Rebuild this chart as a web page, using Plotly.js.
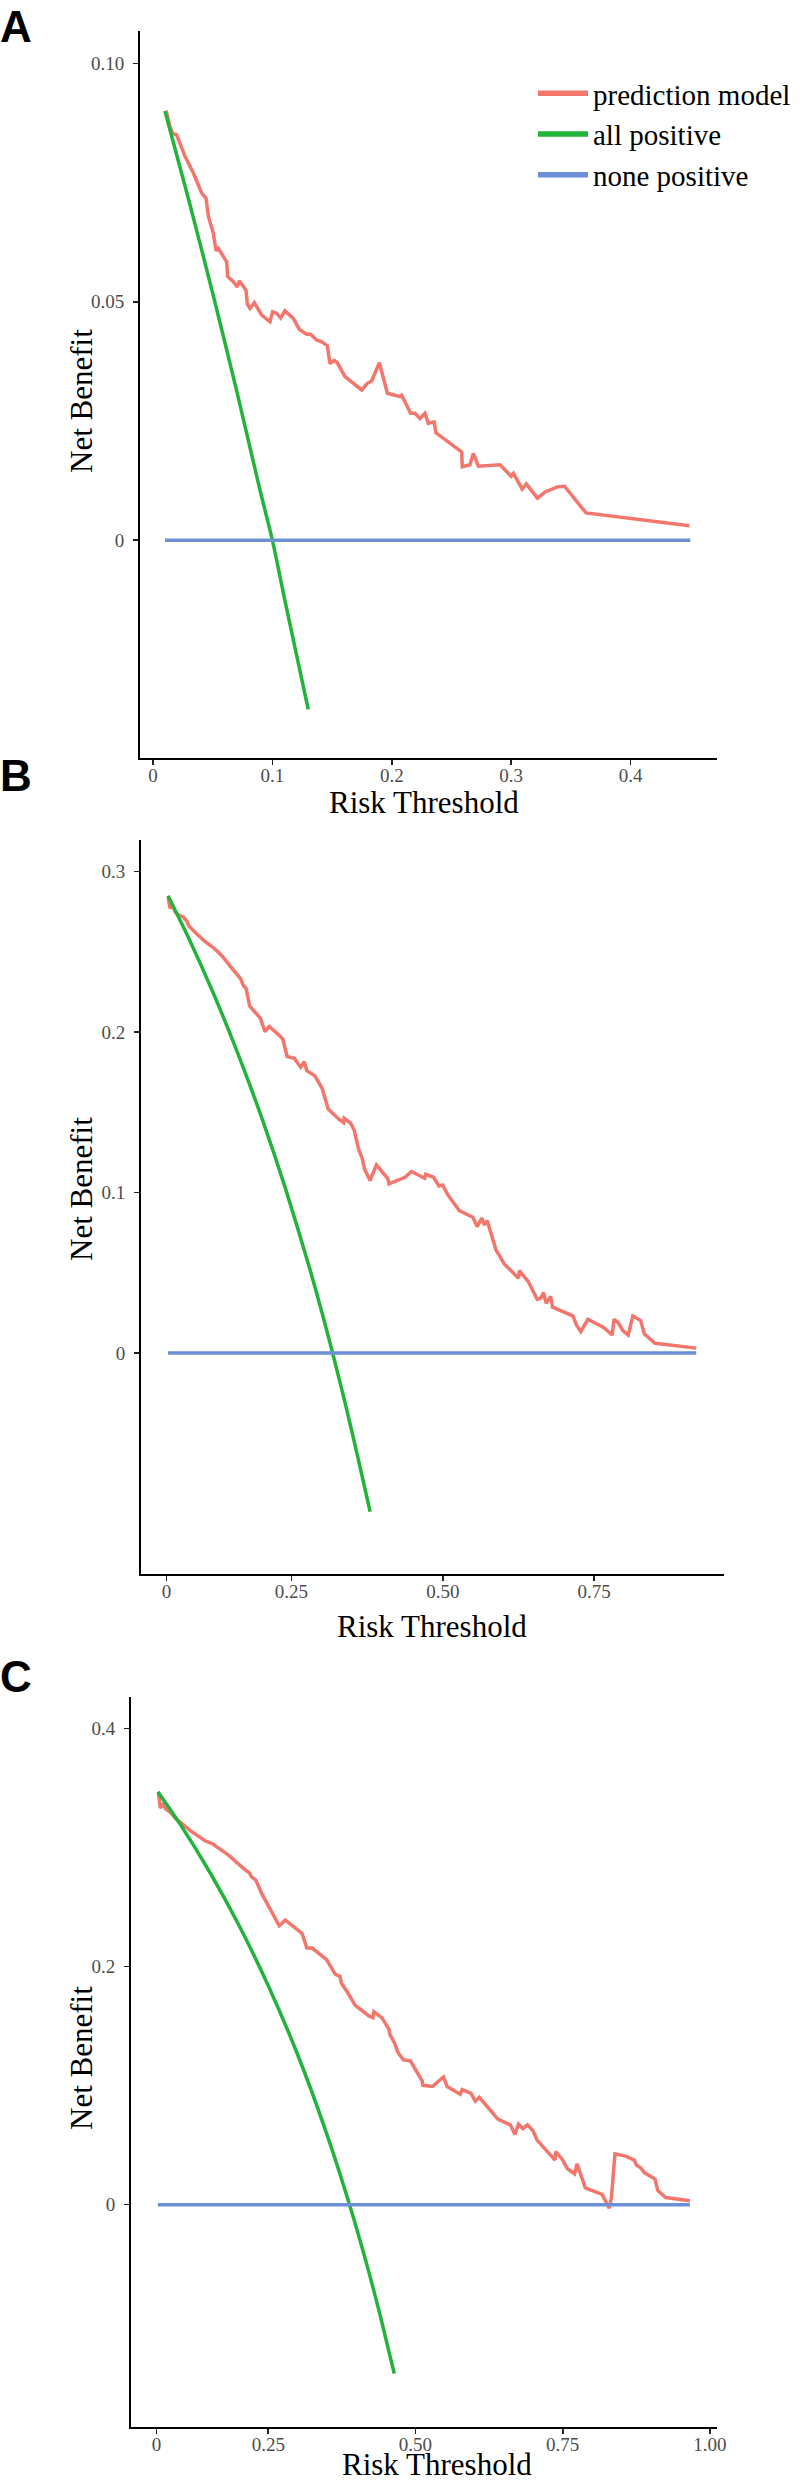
<!DOCTYPE html>
<html>
<head>
<meta charset="utf-8">
<script src="https://cdn.plot.ly/plotly-3.0.1.min.js"></script>
<style>html,body{margin:0;padding:0;background:#fff;}#chart{width:800px;height:2483px;}</style>
</head>
<body>
<div id="chart"></div>
<script>
// ---------- Panel A ----------
const A_model_x = [0.011,0.0142,0.0165,0.0198,0.0268,0.0338,0.0408,0.0444,0.0464,0.0505,0.0528,0.0547,0.0617,0.0625,0.0673,0.0706,0.0723,0.0779,0.079,0.0812,0.0849,0.091,0.098,0.1002,0.1036,0.1069,0.1105,0.1175,0.1226,0.1287,0.132,0.137,0.1413,0.146,0.1482,0.1516,0.1544,0.1608,0.1748,0.1795,0.1831,0.1896,0.1963,0.2069,0.2083,0.2158,0.2194,0.2236,0.2278,0.2306,0.2354,0.2370,0.2585,0.2591,0.2655,0.2683,0.2725,0.2906,0.3000,0.3019,0.3092,0.3126,0.322,0.3285,0.3392,0.3447,0.3627,0.4493];
const A_model_y = [0.0901,0.0867,0.0853,0.0850,0.0805,0.0770,0.0728,0.0717,0.0679,0.0644,0.0607,0.0612,0.0584,0.0553,0.0542,0.0531,0.0544,0.0524,0.0495,0.0486,0.0498,0.0472,0.0458,0.0479,0.0476,0.0466,0.0481,0.0465,0.0442,0.0432,0.0432,0.0420,0.0416,0.0408,0.0370,0.0377,0.0372,0.0343,0.0315,0.0329,0.0334,0.0372,0.0308,0.0301,0.0304,0.0266,0.0266,0.0255,0.0266,0.0245,0.0248,0.0225,0.0185,0.0154,0.0158,0.0182,0.0155,0.0158,0.0134,0.0140,0.0107,0.0118,0.0088,0.0101,0.0112,0.0113,0.0057,0.0030];
const A_all_x = [0.01,0.03,0.05,0.07,0.09,0.10,0.11,0.13];
const A_all_y = [0.090,0.0713,0.0518,0.0314,0.0101,0.000,-0.0121,-0.0355];
const A_none_x = [0.01,0.45];
const A_none_y = [0,0];
const A_xtick_vals = [0,0.1,0.2,0.3,0.4];
const A_xtick_text = ["0","0.1","0.2","0.3","0.4"];
const A_ytick_vals = [0,0.05,0.10];
const A_ytick_text = ["0","0.05","0.10"];

// ---------- Panel B ----------
const B_model_x = [0.0462,0.0492,0.0539,0.058,0.0628,0.0716,0.0775,0.0805,0.0923,0.107,0.1218,0.1354,0.1483,0.1602,0.1661,0.1708,0.1749,0.1808,0.1926,0.1985,0.2062,0.2133,0.231,0.2357,0.2428,0.2546,0.2652,0.2711,0.2753,0.2888,0.3006,0.3107,0.3284,0.3361,0.3372,0.3479,0.3538,0.3609,0.3668,0.3709,0.3798,0.3904,0.4093,0.4111,0.4376,0.4482,0.4701,0.4718,0.4848,0.4937,0.4996,0.5085,0.5273,0.5498,0.5568,0.5645,0.5687,0.5734,0.5881,0.6017,0.6253,0.6265,0.6413,0.656,0.662,0.6666,0.6708,0.6785,0.6814,0.7151,0.721,0.7281,0.7399,0.7653,0.78,0.783,0.7906,0.7977,0.8066,0.8142,0.8272,0.8331,0.8509,0.919];
const B_model_y = [0.2841,0.2772,0.2787,0.2747,0.2731,0.2716,0.2689,0.2662,0.2616,0.2565,0.2523,0.2475,0.2413,0.2357,0.2332,0.2288,0.2274,0.2163,0.2107,0.2087,0.2003,0.2035,0.1976,0.1956,0.1848,0.1837,0.1781,0.1816,0.176,0.1727,0.165,0.152,0.1457,0.1436,0.1463,0.1432,0.1386,0.127,0.1214,0.1145,0.1075,0.1172,0.1085,0.1054,0.1095,0.1131,0.1089,0.1114,0.1095,0.1041,0.1047,0.0985,0.0887,0.0846,0.0788,0.084,0.0798,0.0825,0.0642,0.0555,0.0466,0.0513,0.0445,0.0335,0.0341,0.0376,0.031,0.0351,0.0285,0.0231,0.0175,0.0133,0.021,0.016,0.0112,0.021,0.0185,0.014,0.0112,0.0231,0.0202,0.0119,0.006,0.003];
const B_all_x = [0.046,0.08,0.12,0.16,0.20,0.24,0.28,0.30,0.318,0.34,0.36,0.38];
const B_all_y = [0.285,0.2587,0.225,0.188,0.1475,0.1026,0.0528,0.0257,0.000,-0.0333,-0.0656,-0.099];
const B_none_x = [0.046,0.919];
const B_none_y = [0,0];
const B_xtick_vals = [0.0433,0.25,0.5,0.75];
const B_xtick_text = ["0","0.25","0.50","0.75"];
const B_ytick_vals = [0,0.1,0.2,0.3];
const B_ytick_text = ["0","0.1","0.2","0.3"];

// ---------- Panel C ----------
const C_model_x = [0.0637,0.0667,0.0716,0.0758,0.0831,0.0928,0.105,0.1183,0.1425,0.1547,0.1777,0.182,0.2093,0.2184,0.2214,0.2287,0.2396,0.2608,0.2687,0.279,0.3033,0.3075,0.3154,0.3245,0.3487,0.3548,0.3639,0.3718,0.3742,0.3851,0.3973,0.4203,0.4276,0.4294,0.4427,0.4549,0.4567,0.464,0.47,0.4791,0.4913,0.5113,0.5125,0.5289,0.5476,0.5537,0.5761,0.5792,0.5943,0.6016,0.6083,0.6216,0.6398,0.6611,0.6689,0.675,0.6823,0.6902,0.6993,0.7065,0.7187,0.7369,0.7381,0.749,0.7581,0.7702,0.7744,0.7823,0.7884,0.8169,0.8236,0.829,0.8327,0.8387,0.8569,0.8715,0.8751,0.8824,0.8885,0.9067,0.9115,0.9249,0.9661];
const C_model_y = [0.3453,0.3334,0.3366,0.3324,0.3302,0.3244,0.3196,0.3141,0.3058,0.3035,0.2955,0.2939,0.282,0.2787,0.2755,0.2729,0.2607,0.2424,0.2344,0.2392,0.2289,0.2279,0.2157,0.2157,0.2061,0.2006,0.1935,0.1919,0.1861,0.1781,0.1678,0.1588,0.1572,0.162,0.1572,0.1475,0.1427,0.1363,0.1282,0.1218,0.1208,0.1041,0.1003,0.0993,0.1073,0.0993,0.0929,0.0967,0.0935,0.087,0.0903,0.0826,0.072,0.0671,0.0591,0.0678,0.0639,0.0671,0.0623,0.0543,0.0478,0.0375,0.0446,0.0382,0.0302,0.026,0.0343,0.0237,0.0141,0.0086,0.0012,-0.003,0.006,0.0427,0.0408,0.0375,0.0334,0.0311,0.027,0.0215,0.0118,0.006,0.0033];
const C_all_x = [0.0625,0.10,0.15,0.20,0.25,0.30,0.35,0.388,0.42,0.44,0.464];
const C_all_y = [0.347,0.320,0.280,0.235,0.184,0.126,0.0585,0.000,-0.055,-0.093,-0.142];
const C_none_x = [0.0625,0.966];
const C_none_y = [0,0];
const C_xtick_vals = [0.06,0.25,0.5,0.75,1.0];
const C_xtick_text = ["0","0.25","0.50","0.75","1.00"];
const C_ytick_vals = [0,0.2,0.4];
const C_ytick_text = ["0","0.2","0.4"];

const seriesNames = ["prediction model","all positive","none positive"];
const panelLabels = ["A","B","C"];
const xTitle = "Risk Threshold";
const yTitle = "Net Benefit";

// ---------- styling / layout ----------
const W = 800, H = 2483;
const COL = ["#F3766C", "#22B33A", "#6C8FD6"];
const SERIF = "Liberation Serif, Times New Roman, serif";
const px = v => v / W;
const py = v => 1 - v / H;

const panels = [
  {mx:A_model_x,my:A_model_y,ax:A_all_x,ay:A_all_y,nx:A_none_x,ny:A_none_y,xv:A_xtick_vals,xt:A_xtick_text,yv:A_ytick_vals,yt:A_ytick_text,
   left:140,right:717,top:31,bottom:758,xr:[-0.0109,0.4724],yr:[-0.0457,0.1068],label:[16,0,"top"],xtc:[423.5,802],ytc:[81,401]},
  {mx:B_model_x,my:B_model_y,ax:B_all_x,ay:B_all_y,nx:B_none_x,ny:B_none_y,xv:B_xtick_vals,xt:B_xtick_text,yv:B_ytick_vals,yt:B_ytick_text,
   left:141,right:723.5,top:839.6,bottom:1574,xr:[0.0013,0.964],yr:[-0.1378,0.320],label:[16,776,"middle"],xtc:[432,1626],ytc:[81,1189]},
  {mx:C_model_x,my:C_model_y,ax:C_all_x,ay:C_all_y,nx:C_none_x,ny:C_none_y,xv:C_xtick_vals,xt:C_xtick_text,yv:C_ytick_vals,yt:C_ytick_text,
   left:131,right:717,top:1696.8,bottom:2427,xr:[0.0169,1.012],yr:[-0.1868,0.4268],label:[16,1676,"middle"],xtc:[437,2464],ytc:[81,2058]}
];

const traces = [];
const layout = {
  width: W, height: H,
  margin: {l:0,r:0,t:0,b:0},
  paper_bgcolor: "#ffffff", plot_bgcolor: "#ffffff",
  showlegend: true,
  legend: {x: px(533), y: py(68), xanchor:"left", yanchor:"top", itemwidth: 50,
           font:{family:SERIF, size:29, color:"#000"}, bgcolor:"rgba(0,0,0,0)", tracegroupgap:0},
  annotations: []
};

panels.forEach((p, i) => {
  const n = i === 0 ? "" : String(i + 1);
  const xa = "x" + n, ya = "y" + n;
  const lw = 3.5;
  traces.push({x:p.mx, y:p.my, type:"scatter", mode:"lines", name:seriesNames[0], xaxis:xa, yaxis:ya,
               line:{color:COL[0], width:lw}, showlegend:false});
  traces.push({x:p.ax, y:p.ay, type:"scatter", mode:"lines", name:seriesNames[1], xaxis:xa, yaxis:ya,
               line:{color:COL[1], width:lw, shape:"spline", smoothing:0.6}, showlegend:false});
  traces.push({x:p.nx, y:p.ny, type:"scatter", mode:"lines", name:seriesNames[2], xaxis:xa, yaxis:ya,
               line:{color:COL[2], width:lw}, showlegend:false});
  const common = {showgrid:false, zeroline:false, showline:true, linecolor:"#000", linewidth:2,
                  ticks:"outside", ticklen:5, tickwidth:1.6, tickcolor:"#222",
                  tickfont:{family:SERIF, size:19, color:"#4D4D4D"}, fixedrange:true, automargin:false};
  layout["xaxis" + n] = Object.assign({}, common, {
    domain:[px(p.left), px(p.right)], range:p.xr, anchor:ya, ticklabelstandoff:-6,
    tickmode:"array", tickvals:p.xv, ticktext:p.xt});
  layout["yaxis" + n] = Object.assign({}, common, {
    domain:[py(p.bottom), py(p.top)], range:p.yr, anchor:xa, ticklabelstandoff:5,
    tickmode:"array", tickvals:p.yv, ticktext:p.yt});
  layout.annotations.push({xref:"paper", yref:"paper", x:px(p.label[0]), y:py(p.label[1]),
    xanchor:"center", yanchor:p.label[2], showarrow:false, text:"<b>" + panelLabels[i] + "</b>",
    font:{family:"Liberation Sans, Arial, sans-serif", size:44, color:"#000"}});
  layout.annotations.push({xref:"paper", yref:"paper", x:px(p.xtc[0]), y:py(p.xtc[1]),
    xanchor:"center", yanchor:"middle", showarrow:false, text:xTitle,
    font:{family:SERIF, size:31, color:"#000"}});
  layout.annotations.push({xref:"paper", yref:"paper", x:px(p.ytc[0]), y:py(p.ytc[1]),
    xanchor:"center", yanchor:"middle", showarrow:false, text:yTitle, textangle:-90,
    font:{family:SERIF, size:31, color:"#000"}});
});

// legend keys (thicker than the plotted lines, as in the reference legend)
seriesNames.forEach((nm, k) => {
  traces.push({x:[null], y:[null], type:"scatter", mode:"lines", name:nm, xaxis:"x", yaxis:"y",
               line:{color:COL[k], width:5.5}, showlegend:true, hoverinfo:"skip"});
});

Plotly.newPlot("chart", traces, layout, {displayModeBar:false, staticPlot:true});
</script>
</body>
</html>
